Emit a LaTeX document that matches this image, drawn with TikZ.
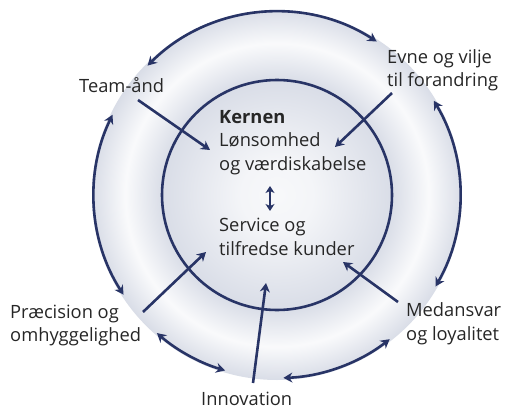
\documentclass[tikz,border=0pt]{standalone}
\usepackage{fontspec}
\setmainfont{Open Sans}
\usetikzlibrary{arrows.meta,positioning}
\definecolor{navy}{HTML}{283466}
\definecolor{ringgray}{HTML}{D9DDE7}
\pgfdeclareradialshading{outerring}{\pgfpoint{0bp}{0bp}}{color(0bp)=(ringgray);
  color(15.5bp)=(ringgray); color(20.5bp)=(white!85!ringgray); color(25bp)=(ringgray);
  color(50bp)=(ringgray)}
\pgfdeclareradialshading{innerdisk}{\pgfpoint{0bp}{0bp}}{color(0bp)=(white!80!ringgray);
  color(8bp)=(white!70!ringgray); color(25bp)=(ringgray); color(50bp)=(ringgray)}
\tikzset{
  label/.style={inner sep=0pt,anchor=base west,align=left,
    font=\fontsize{18.3}{23.3}\selectfont,text=black!85},
  link/.style={draw=navy,line width=2.6pt,-{Stealth[length=9pt,width=10pt,inset=3pt]}},
  ring/.style={link,{Stealth[length=9pt,width=10pt,inset=3pt]}-{Stealth[length=9pt,width=10pt,inset=3pt]}}
}
\begin{document}
\begin{tikzpicture}[x=1pt,y=1pt]
\useasboundingbox (0,0) rectangle (506,408);
\coordinate (c) at (277,213);
\shade[shading=outerring] (c) circle[radius=185];
\shade[shading=innerdisk] (c) circle[radius=115];
\draw[navy,line width=2.6pt] (c) circle[radius=115];

\node[label] (kerne) at (219,238) {\textbf{Kernen}\\Lønsomhed\\og værdiskabelse};
\node[label] (service) at (219,153) {Service og\\tilfredse kunder};
\node[label] (team) at (79,315.3) {Team-ånd};
\node[label] (evne) at (387,321.3) {Evne og vilje\\til forandring};
\node[label] (praecision) at (10,66.3) {Præcision og\\omhyggelighed};
\node[label] (medansvar) at (406,68) {Medansvar\\og loyalitet};
\node[label] (innovation) at (201,3) {Innovation};

\coordinate (t1) at (138,308); \coordinate (t2) at (210,258);
\coordinate (e1) at (392,315); \coordinate (e2) at (335,261);
\coordinate (p1) at (143,96);  \coordinate (p2) at (206,156);
\coordinate (i1) at (253,25);  \coordinate (i2) at (266,125);
\coordinate (m1) at (398,106); \coordinate (m2) at (343,146);
\coordinate (k1) at (270,222); \coordinate (k2) at (270,197);

\draw[link] (t1) -- (t2);
\draw[link] (e1) -- (e2);
\draw[link] (p1) -- (p2);
\draw[link] (i1) -- (i2);
\draw[link] (m1) -- (m2);
\draw[draw=navy,line width=2.6pt,{Stealth[length=7pt,width=9pt,inset=2pt]}-{Stealth[length=7pt,width=9pt,inset=2pt]}] (k1) -- (k2);

\draw[ring] ([shift={(135:183)}]c) arc[start angle=135,end angle=57,radius=183];
\draw[ring] ([shift={(31:183)}]c) arc[start angle=31,end angle=-30,radius=183];
\draw[ring] ([shift={(-52:183)}]c) arc[start angle=-52,end angle=-88,radius=183];
\draw[ring] ([shift={(229:183)}]c) arc[start angle=229,end angle=253.5,radius=183];
\draw[ring] ([shift={(154:183)}]c) arc[start angle=154,end angle=213,radius=183];
\end{tikzpicture}
\end{document}
